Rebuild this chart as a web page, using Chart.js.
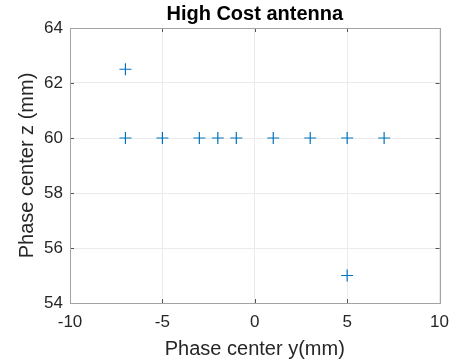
<!DOCTYPE html>
<html>
<head>
<meta charset="utf-8">
<title>High Cost antenna</title>
<script src="https://cdn.jsdelivr.net/npm/chart.js@4.4.1/dist/chart.umd.min.js"></script>
<style>
    html, body { margin: 0; padding: 0; background: #ffffff; }
    .chart-container { position: relative; width: 458px; height: 364px; }
</style>
</head>
<body>
<div class="chart-container">
    <canvas id="myChart"></canvas>
</div>
<script>
// =========================================================
// 1. DADOS
// =========================================================
const phaseCenterY = [-7, -7, -5, -3, -2, -1, 1, 3, 5, 7, 5];
const phaseCenterZ = [62.5, 60, 60, 60, 60, 60, 60, 60, 60, 60, 55];

const xTicks = [-10, -5, 0, 5, 10];
const yTicks = [54, 56, 58, 60, 62, 64];

const FONT = "'Liberation Sans', Arial, sans-serif";
const TEXT_COLOR = '#262626';
const AXIS_COLOR = '#a3a3a3';
const GRID_COLOR = '#ebebeb';

// =========================================================
// 2. MOLDURA (caixa completa + marcas de escala internas)
// =========================================================
const boxPlugin = {
    id: 'boxPlugin',
    afterDatasetsDraw(chart) {
        const { ctx, chartArea: a, scales } = chart;
        const len = 4;
        ctx.save();
        ctx.strokeStyle = '#555555';
        ctx.lineWidth = 1;
        ctx.beginPath();
        xTicks.forEach(v => {
            const px = Math.round(scales.x.getPixelForValue(v)) + 0.5;
            ctx.moveTo(px, a.bottom); ctx.lineTo(px, a.bottom - len);
            ctx.moveTo(px, a.top); ctx.lineTo(px, a.top + len);
        });
        yTicks.forEach(v => {
            const py = Math.round(scales.y.getPixelForValue(v)) + 0.5;
            ctx.moveTo(a.left, py); ctx.lineTo(a.left + len, py);
            ctx.moveTo(a.right, py); ctx.lineTo(a.right - len, py);
        });
        ctx.stroke();
        ctx.strokeStyle = AXIS_COLOR;
        ctx.strokeRect(Math.round(a.left) + 0.5, Math.round(a.top) + 0.5,
            Math.round(a.right - a.left), Math.round(a.bottom - a.top));
        ctx.restore();
    }
};

// =========================================================
// 3. GRÁFICO
// =========================================================
const points = phaseCenterY.map((y, i) => ({ x: y, y: phaseCenterZ[i] }));

const ctx = document.getElementById('myChart').getContext('2d');
const myChart = new Chart(ctx, {
    type: 'scatter',
    data: {
        datasets: [{
            data: points,
            pointStyle: 'cross',
            pointRadius: 6,
            pointHoverRadius: 6,
            borderColor: '#0072BD',
            backgroundColor: '#0072BD',
            pointBorderWidth: 1.2
        }]
    },
    options: {
        responsive: true,
        maintainAspectRatio: false,
        animation: false,
        layout: { padding: { left: 0, right: 16, top: 0, bottom: 0 } },
        plugins: {
            legend: { display: false },
            tooltip: { enabled: false },
            title: {
                display: true,
                fullSize: false, // centraliza sobre a área do gráfico
                text: 'High Cost antenna',
                color: '#000000',
                font: { family: FONT, size: 20, weight: 'bold', lineHeight: 1.2 },
                padding: { top: 2, bottom: 2 }
            }
        },
        scales: {
            x: {
                type: 'linear',
                min: -10,
                max: 10,
                afterBuildTicks: s => { s.ticks = xTicks.map(v => ({ value: v })); },
                afterFit: s => { s.height = 61; },
                grid: { color: GRID_COLOR, drawTicks: false },
                border: { display: false },
                ticks: {
                    color: TEXT_COLOR,
                    padding: 9,
                    maxRotation: 0,
                    font: { family: FONT, size: 17 }
                },
                title: {
                    display: true,
                    text: 'Phase center y(mm)',
                    color: TEXT_COLOR,
                    font: { family: FONT, size: 20, lineHeight: 1.2 },
                    padding: { top: 0, bottom: 2.6 }
                }
            },
            y: {
                type: 'linear',
                min: 54,
                max: 64,
                afterBuildTicks: s => { s.ticks = yTicks.map(v => ({ value: v })); },
                afterFit: s => { s.width = 70; },
                grid: { color: GRID_COLOR, drawTicks: false },
                border: { display: false },
                ticks: {
                    color: TEXT_COLOR,
                    padding: 7,
                    font: { family: FONT, size: 17 }
                },
                title: {
                    display: true,
                    text: 'Phase center z (mm)',
                    color: TEXT_COLOR,
                    font: { family: FONT, size: 20, lineHeight: 1.2 },
                    padding: { top: 15, bottom: 0 }
                }
            }
        }
    },
    plugins: [boxPlugin]
});
</script>
</body>
</html>
